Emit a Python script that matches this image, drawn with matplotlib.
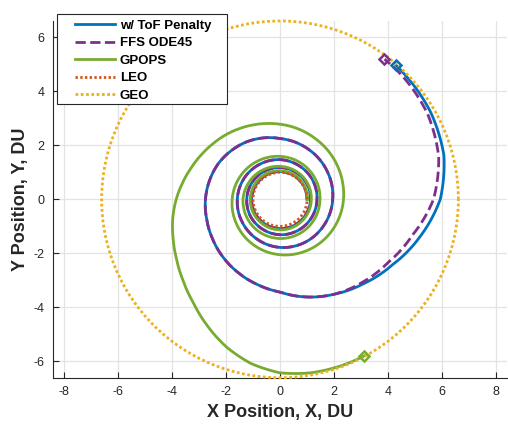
import numpy as np
import matplotlib
matplotlib.use("Agg")
import matplotlib.pyplot as plt
from matplotlib.patches import Rectangle

plt.rcParams['font.family'] = ['Liberation Sans', 'DejaVu Sans']
plt.rcParams['axes.unicode_minus'] = False

# spiral samples: cumulative angle (deg, CCW from +x) and radius (DU)
blue_theta = [-1080, -1050, -1020, -990, -960, -930, -900, -870, -840, -810, -780, -750,
              -720, -690, -660, -630, -600, -570, -540, -510, -480, -450, -420, -390,
              -360, -330, -300, -270, -240, -210, -180, -150, -120, -90, -60, -30,
              0, 30, 60, 90, 120, 150, 180, 195, 210, 225, 240, 255, 270, 285, 300,
              315, 330, 345, 360, 375, 390, 405, 409.1]
blue_r = [1.00, 1.01, 1.02, 1.03, 1.035, 1.04, 1.05, 1.06, 1.07, 1.08, 1.10, 1.11,
          1.13, 1.15, 1.16, 1.18, 1.19, 1.21, 1.23, 1.26, 1.28, 1.31, 1.33, 1.35,
          1.37, 1.40, 1.43, 1.47, 1.50, 1.54, 1.58, 1.63, 1.70, 1.78, 1.84, 1.89,
          1.95, 2.03, 2.13, 2.25, 2.46, 2.64, 2.76, 2.81, 2.89, 3.00, 3.12, 3.26, 3.43, 3.74, 4.05,
          4.40, 4.82, 5.36, 5.93, 6.28, 6.44, 6.53, 6.56]

# FFS ODE45 follows the same path until ~300 deg, then this tail
ffs_tail_theta = [315, 330, 345, 360, 375, 390, 405, 413.3]
ffs_tail_r = [4.33, 4.64, 5.08, 5.68, 6.08, 6.31, 6.43, 6.47]

gpops_theta = [0, 30, 60, 90, 120, 150, 180, 210, 240, 270, 300, 330, 360, 390, 420, 450,
               480, 510, 540, 570, 600, 630, 660, 690, 720, 750, 780, 810, 840, 870, 900,
               930, 960, 990, 1020, 1050, 1080, 1095, 1110, 1125, 1140, 1155, 1170, 1180,
               1190, 1200, 1210, 1220, 1230, 1240, 1250, 1260, 1270, 1280, 1290, 1300,
               1310, 1320, 1330, 1340, 1350, 1360, 1370, 1378.3]
gpops_r = [1.02, 1.03, 1.05, 1.06, 1.08, 1.09, 1.10, 1.11, 1.12, 1.13, 1.14, 1.15, 1.16, 1.18, 1.20, 1.22,
           1.26, 1.31, 1.37, 1.40, 1.43, 1.45, 1.46, 1.47, 1.48, 1.51, 1.55, 1.59, 1.64, 1.70, 1.77,
           1.85, 1.95, 2.05, 2.15, 2.25, 2.35, 2.40, 2.46, 2.53, 2.60, 2.69, 2.78, 2.85,
           2.93, 3.02, 3.12, 3.22, 3.34, 3.48, 3.65, 3.84, 4.03, 4.21, 4.42, 4.68,
           4.99, 5.39, 5.81, 6.17, 6.42, 6.52, 6.56, 6.58]

leo_radius = 1.0
geo_radius = 6.6

labels = ['w/ ToF Penalty', 'FFS ODE45', 'GPOPS', 'LEO', 'GEO']
colors = ['#0072BD', '#7E2F8E', '#77AC30', '#D95319', '#EDB120']

n_shared = blue_theta.index(300) + 1
ffs_theta = blue_theta[:n_shared] + ffs_tail_theta
ffs_r = blue_r[:n_shared] + ffs_tail_r

W, H = 508, 426
x_half, y_half = 8.4, 6.6
ax_left, ax_bottom, ax_w = 53, 48.3, 454
scale = ax_w / (2 * x_half)          # px per DU, same on both axes
ax_h = 2 * y_half * scale

fig = plt.figure(figsize=(W / 100, H / 100), dpi=100)
ax = fig.add_axes([ax_left / W, ax_bottom / H, ax_w / W, ax_h / H])

# transparent polar axes on top, same scale, so the spirals are drawn as smooth arcs
side = 2 * geo_radius * scale
cx = ax_left + x_half * scale
cy = ax_bottom + y_half * scale
pax = fig.add_axes([(cx - side / 2) / W, (cy - side / 2) / H, side / W, side / H],
                   projection='polar')
pax.set_rlim(0, geo_radius)
pax.set_axis_off()
pax.patch.set_visible(False)

series = [(blue_theta, blue_r, dict(ls='-')),
          (ffs_theta, ffs_r, dict(ls='--')),
          (gpops_theta, gpops_r, dict(ls='-')),
          ([0, 90, 180, 270, 360], [leo_radius] * 5, dict(dashes=(0.85, 0.85))),
          ([0, 90, 180, 270, 360], [geo_radius] * 5, dict(dashes=(1.0, 0.9)))]

handles = []
for (th, r, style), c, lab in zip(series, colors, labels):
    ln, = pax.plot(np.radians(th), r, color=c, lw=2.0, label=lab, clip_on=False, **style)
    ln.get_path()._interpolation_steps = 16
    handles.append(ln)

# end-point markers
for th, r, c in [(blue_theta, blue_r, colors[0]), (ffs_theta, ffs_r, colors[1]),
                 (gpops_theta, gpops_r, colors[2])]:
    pax.plot(np.radians(th[-1]), r[-1], marker='D', ms=5.5, mfc='none', mec=c, mew=1.8,
             ls='none', clip_on=False)

ax.set_xlim(-x_half, x_half)
ax.set_ylim(-y_half, y_half)
ax.set_xticks(np.arange(-8, 9, 2))
ax.set_yticks(np.arange(-6, 7, 2))
ax.grid(True, color='#e3e3e3', lw=0.9)
ax.set_axisbelow(True)
for s in ['top', 'right']:
    ax.spines[s].set_visible(False)
for s in ['left', 'bottom']:
    ax.spines[s].set_color('#262626')
    ax.spines[s].set_linewidth(0.8)
ax.tick_params(direction='in', length=4, width=0.8, colors='#262626', labelsize=9, pad=6)

ax.set_xlabel('X Position, X, DU', fontsize=13, fontweight='bold', color='#262626', labelpad=4)
ax.set_ylabel('Y Position, Y, DU', fontsize=13, fontweight='bold', color='#262626', labelpad=3)

# legend box (MATLAB style: wide side padding)
fig.patches.append(Rectangle((56.7 / W, 1 - 104 / H), 170 / W, 90 / H,
                             transform=fig.transFigure, facecolor='white',
                             edgecolor='#262626', lw=0.8, zorder=3))
leg = fig.legend(handles=handles, loc='upper left', bbox_to_anchor=(75 / W, 1 - 19.5 / H),
                 frameon=False, borderaxespad=0, borderpad=0, labelspacing=0.4,
                 handlelength=3.0, handletextpad=0.4, prop={'weight': 'bold', 'size': 9.5})
leg.set_zorder(4)

fig.savefig('out.png', dpi=100)
